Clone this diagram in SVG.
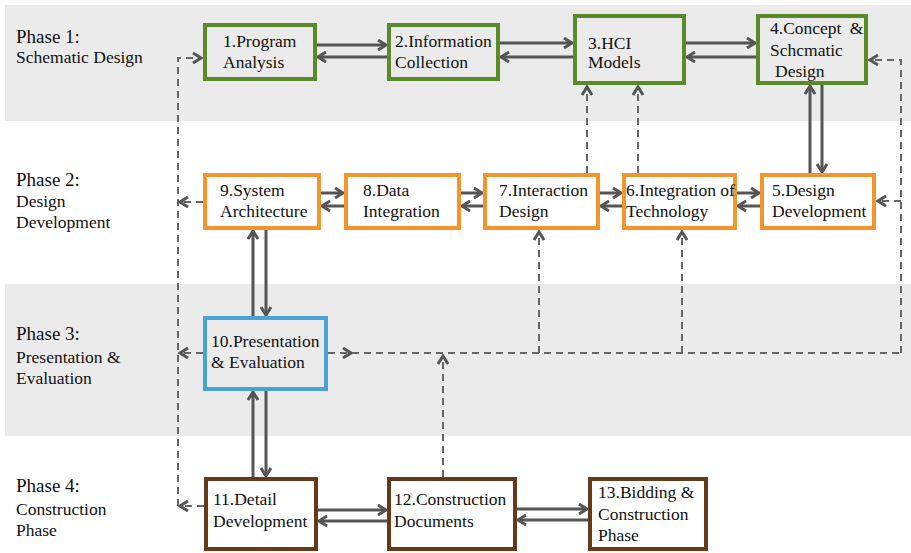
<svg xmlns="http://www.w3.org/2000/svg" width="911" height="553" viewBox="0 0 911 553" font-family="Liberation Serif, serif">
<style>
.band{fill:#ebebeb}
.g{stroke:#5b8a2d;stroke-width:4}
.o{stroke:#f2952c;stroke-width:4}
.b{stroke:#4aa3d5;stroke-width:4}
.br{stroke:#65391a;stroke-width:4}
.solid{fill:none;stroke:#555;stroke-width:3;marker-end:url(#ah)}
.dash{fill:none;stroke:#666;stroke-width:2;stroke-dasharray:7 5}
.dasha{fill:none;stroke:#666;stroke-width:2;stroke-dasharray:7 5;marker-end:url(#ah)}
</style>
<defs>
<marker id="ah" viewBox="0 0 12 12" refX="10" refY="6" markerWidth="12" markerHeight="12" markerUnits="userSpaceOnUse" orient="auto">
<path d="M2,1 L10,6 L2,11" fill="none" stroke="#555" stroke-width="3"/>
</marker>
</defs>
<rect x="0" y="0" width="911" height="553" fill="#fff"/>
<rect class="band" x="5" y="5" width="906" height="116"/>
<rect class="band" x="5" y="284" width="906" height="152"/>

<g id="phase-labels" fill="#111">
<text font-family="Liberation Serif" font-size="19" x="16" y="43">Phase 1:</text>
<text font-family="Liberation Serif" font-size="17.5" x="16" y="63">Schematic Design</text>
<text font-family="Liberation Serif" font-size="19" x="16" y="186">Phase 2:</text>
<text font-family="Liberation Serif" font-size="17.5" x="16" y="207">Design</text>
<text font-family="Liberation Serif" font-size="17.5" x="16" y="228">Development</text>
<text font-family="Liberation Serif" font-size="19" x="16" y="340">Phase 3:</text>
<text font-family="Liberation Serif" font-size="17.5" x="16" y="363">Presentation &amp;</text>
<text font-family="Liberation Serif" font-size="17.5" x="16" y="384">Evaluation</text>
<text font-family="Liberation Serif" font-size="19" x="16" y="492">Phase 4:</text>
<text font-family="Liberation Serif" font-size="17.5" x="16" y="515">Construction</text>
<text font-family="Liberation Serif" font-size="17.5" x="16" y="536">Phase</text>
</g>

<g id="connectors">
<path class="solid" d="M317,45 L386,45"/>
<path class="solid" d="M387,57 L318,57"/>
<path class="solid" d="M500,43 L572,43"/>
<path class="solid" d="M573,57 L501,57"/>
<path class="solid" d="M686,43 L755,43"/>
<path class="solid" d="M756,57 L687,57"/>
<path class="solid" d="M321,193 L343,193"/>
<path class="solid" d="M344,206 L322,206"/>
<path class="solid" d="M461,193 L482,193"/>
<path class="solid" d="M483,206 L462,206"/>
<path class="solid" d="M600,193 L621,193"/>
<path class="solid" d="M622,206 L601,206"/>
<path class="solid" d="M737,193 L759,193"/>
<path class="solid" d="M760,206 L738,206"/>
<path class="solid" d="M318,510 L386,510"/>
<path class="solid" d="M387,521 L319,521"/>
<path class="solid" d="M517,509 L587,509"/>
<path class="solid" d="M588,520 L518,520"/>
<path class="solid" d="M810,173 L810,86"/>
<path class="solid" d="M822,85 L822,172"/>
<path class="solid" d="M253,316 L253,231"/>
<path class="solid" d="M266,230 L266,315"/>
<path class="solid" d="M253,477 L253,392"/>
<path class="solid" d="M266,391 L266,476"/>
<path class="dasha" d="M178,506 L178,58 L201,58"/>
<path class="dasha" d="M203,202 L180,202"/>
<path class="dasha" d="M203,353 L180,353"/>
<path class="dasha" d="M204,506 L180,506"/>
<path class="dasha" d="M901,353 L901,60 L870,60"/>
<path class="dasha" d="M901,201 L878,201"/>
<path class="dasha" d="M328,353 L351,353"/>
<path class="dash" d="M352,353 L901,353"/>
<path class="dasha" d="M443,477 L443,356"/>
<path class="dasha" d="M539,353 L539,232"/>
<path class="dasha" d="M682,353 L682,232"/>
<path class="dasha" d="M587,173 L587,87"/>
<path class="dasha" d="M638,173 L638,87"/>
</g>

<g id="n1"><rect class="g" x="205" y="25" width="110" height="54" fill="#ebebeb"/>
<text font-family="Liberation Serif" font-size="17.5" fill="#111" x="223" y="47">1.Program</text><text font-family="Liberation Serif" font-size="17.5" fill="#111" x="223" y="68">Analysis</text></g>
<g id="n2"><rect class="g" x="389" y="25" width="109" height="54" fill="#ebebeb"/>
<text font-family="Liberation Serif" font-size="17.5" fill="#111" x="395" y="47">2.Information</text><text font-family="Liberation Serif" font-size="17.5" fill="#111" x="395" y="68">Collection</text></g>
<g id="n3"><rect class="g" x="575" y="16" width="109" height="67" fill="#ebebeb"/>
<text font-family="Liberation Serif" font-size="17.5" fill="#111" x="588" y="49">3.HCI</text><text font-family="Liberation Serif" font-size="17.5" fill="#111" x="588" y="68">Models</text></g>
<g id="n4"><rect class="g" x="758" y="16" width="108" height="67" fill="#ebebeb"/>
<text font-family="Liberation Serif" font-size="17.5" fill="#111" x="770" y="34">4.Concept <tspan dx="4">&amp;</tspan></text><text font-family="Liberation Serif" font-size="17.5" fill="#111" x="770" y="56">Schcmatic</text><text font-family="Liberation Serif" font-size="17.5" fill="#111" x="775" y="77">Design</text></g>

<g id="n9"><rect class="o" x="205" y="175" width="114" height="53" fill="#fff"/>
<text font-family="Liberation Serif" font-size="17.5" fill="#111" x="220" y="196">9.System</text><text font-family="Liberation Serif" font-size="17.5" fill="#111" x="220" y="217">Architecture</text></g>
<g id="n8"><rect class="o" x="346" y="175" width="113" height="53" fill="#fff"/>
<text font-family="Liberation Serif" font-size="17.5" fill="#111" x="363" y="196">8.Data</text><text font-family="Liberation Serif" font-size="17.5" fill="#111" x="363" y="217">Integration</text></g>
<g id="n7"><rect class="o" x="485" y="175" width="113" height="53" fill="#fff"/>
<text font-family="Liberation Serif" font-size="17.5" fill="#111" x="499" y="196">7.Interaction</text><text font-family="Liberation Serif" font-size="17.5" fill="#111" x="499" y="217">Design</text></g>
<g id="n6"><rect class="o" x="624" y="175" width="111" height="53" fill="#fff"/>
<text font-family="Liberation Serif" font-size="17.5" fill="#111" x="626" y="196">6.Integration of</text><text font-family="Liberation Serif" font-size="17.5" fill="#111" x="626" y="217">Technology</text></g>
<g id="n5"><rect class="o" x="762" y="175" width="112" height="53" fill="#fff"/>
<text font-family="Liberation Serif" font-size="17.5" fill="#111" x="772" y="196">5.Design</text><text font-family="Liberation Serif" font-size="17.5" fill="#111" x="772" y="217">Development</text></g>

<g id="n10"><rect class="b" x="205" y="318" width="121" height="71" fill="#ebebeb"/>
<text font-family="Liberation Serif" font-size="17.5" fill="#111" x="211" y="347">10.Presentation</text><text font-family="Liberation Serif" font-size="17.5" fill="#111" x="211" y="368">&amp; Evaluation</text></g>

<g id="n11"><rect class="br" x="206" y="479" width="110" height="70" fill="#fff"/>
<text font-family="Liberation Serif" font-size="17.5" fill="#111" x="213" y="505">11.Detail</text><text font-family="Liberation Serif" font-size="17.5" fill="#111" x="213" y="527">Development</text></g>
<g id="n12"><rect class="br" x="389" y="479" width="126" height="70" fill="#fff"/>
<text font-family="Liberation Serif" font-size="17.5" fill="#111" x="394" y="505">12.Construction</text><text font-family="Liberation Serif" font-size="17.5" fill="#111" x="394" y="527">Documents</text></g>
<g id="n13"><rect class="br" x="590" y="479" width="116" height="70" fill="#fff"/>
<text font-family="Liberation Serif" font-size="17.5" fill="#111" x="598" y="498">13.Bidding &amp;</text><text font-family="Liberation Serif" font-size="17.5" fill="#111" x="598" y="520">Construction</text><text font-family="Liberation Serif" font-size="17.5" fill="#111" x="598" y="541">Phase</text></g>
</svg>
